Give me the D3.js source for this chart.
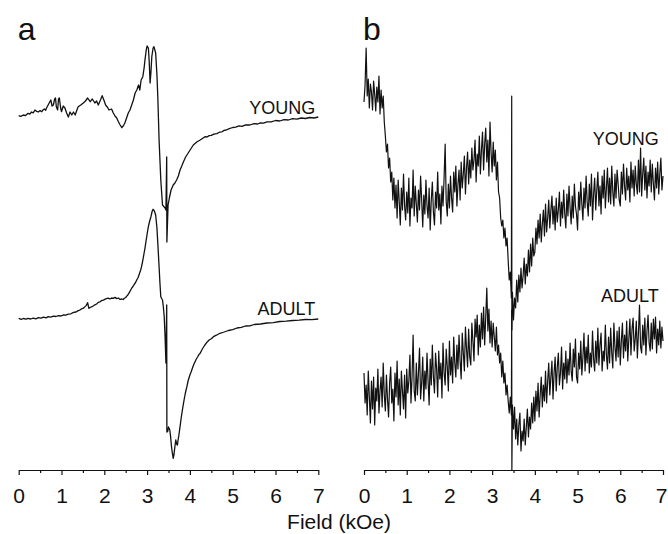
<!DOCTYPE html>
<html>
<head>
<meta charset="utf-8">
<script src="https://cdn.jsdelivr.net/npm/d3@7"></script>
<style>
  body { margin: 0; background: #fff; }
  svg { display: block; font-family: "Liberation Sans", Arial, Helvetica, sans-serif; }
</style>
</head>
<body>
<svg id="chart" width="668" height="534"></svg>
<script>
// EPR spectra, field in kOe, signal in arbitrary units
var panelLabels = ["a", "b"];
var traceNames = ["YOUNG", "ADULT"];
var majorTicks = [0, 1, 2, 3, 4, 5, 6, 7];
var minorTicks = [0.5, 1.5, 2.5, 3.5, 4.5, 5.5, 6.5];
var markerField = 3.46;

// vertical stacking of the traces (a.u.)
var offsetsA = [353, 151];
var offsetsB = [290, 137];
// sharp marker line at markerField: [top, bottom] per trace
var markerA = [[-40, -125], [14, -113]];
var markerB = [[84, -150], [23, -137]];

// panel a: [field, signal]
var youngA = [[0.00,1.3],[0.05,0.6],[0.11,2],[0.16,1.4],[0.22,3.7],[0.26,2.8],[0.30,5],[0.34,4.2],[0.38,7],[0.42,5.6],
  [0.46,5],[0.50,6.4],[0.54,5.3],[0.57,7.2],[0.60,8],[0.63,6.8],[0.65,9],[0.70,13],
  [0.75,17],[0.78,11],[0.81,12],[0.84,18],[0.86,19],[0.88,10],[0.91,7],[0.93,18],[0.95,19],[0.98,9],
  [1.00,5.3],[1.04,11],[1.08,9],[1.12,4],[1.16,0],[1.20,5],[1.24,2],[1.28,5],[1.32,2],[1.36,7],
  [1.39,10.3],[1.45,12],[1.51,14],[1.56,16],[1.61,19],[1.67,15.3],[1.72,18],[1.78,14],[1.82,16],[1.86,12],
  [1.91,17],[1.95,21.3],[1.99,17],[2.03,12],[2.07,10],[2.11,7],[2.17,8],[2.21,4],[2.25,1],[2.29,-1],
  [2.33,-4.7],[2.37,-8],[2.41,-10.7],[2.45,-8.5],[2.48,-6],[2.52,-1],[2.56,4],[2.60,7],[2.64,12],[2.68,17],
  [2.72,24],[2.76,27],[2.80,32],[2.83,27],[2.86,37],[2.90,40.3],[2.93,49],[2.95,57],[2.98,67],[3.00,71],
  [3.03,69],[3.05,55],[3.07,34],[3.09,45],[3.11,60.3],[3.14,69],[3.16,70.3],[3.20,64],[3.23,42],[3.25,20.3],
  [3.28,-23],[3.30,-43],[3.32,-63],[3.36,-88],[3.42,-91],[3.44,-93],[3.49,-88],[3.52,-81],[3.56,-73],[3.61,-68],
  [3.65,-66],[3.69,-63],[3.73,-59],[3.77,-53],[3.81,-49],[3.85,-44.7],[3.90,-40],[3.96,-36],[4.02,-32],[4.08,-28],
  [4.16,-25],[4.24,-23],[4.31,-21],[4.36,-19.6],[4.40,-20],[4.45,-18.6],[4.50,-18.4],[4.56,-17.2],[4.63,-16.6],[4.69,-15.2],
  [4.75,-14.8],[4.80,-13.4],[4.85,-13],[4.92,-11.6],[5.00,-10.5],[5.07,-10.2],[5.15,-8.9],[5.22,-9.3],[5.30,-7.8],[5.40,-8.0],
  [5.50,-6.6],[5.58,-7.0],[5.65,-5.8],[5.72,-6.2],[5.80,-4.8],[5.90,-4.9],[6.00,-3.5],[6.10,-4.0],[6.20,-2.6],[6.30,-3.0],
  [6.40,-1.7],[6.50,-2.2],[6.60,-1.0],[6.70,-1.5],[6.80,-0.5],[6.90,-1.0],[7.00,0]];

var adultA = [[0.00,0.7],[0.06,-0.3],[0.11,0.5],[0.17,-0.2],[0.22,0.7],[0.28,0],[0.34,0.8],[0.40,0.2],[0.46,1.3],[0.52,0.8],
  [0.58,1.8],[0.64,1.2],[0.69,2.3],[0.75,1.9],[0.81,2.8],[0.87,2.5],[0.93,3.4],[0.99,3.0],[1.05,4.2],[1.10,3.9],
  [1.16,4.9],[1.22,5.2],[1.28,6.6],[1.34,7.0],[1.39,8.4],[1.43,8.9],[1.47,10.2],[1.51,10.8],[1.55,12.4],[1.58,13.6],
  [1.61,16.3],[1.64,10.7],[1.67,11.5],[1.70,12.2],[1.74,13.0],[1.78,14.2],[1.82,15.0],[1.86,16.6],[1.90,17.2],[1.94,18.5],
  [1.98,18.9],[2.01,19.6],[2.05,20.3],[2.09,20.8],[2.13,20.0],[2.17,21.0],[2.21,20.6],[2.25,21.6],[2.29,20.4],[2.33,21.0],
  [2.37,19.6],[2.41,20.0],[2.44,19.5],[2.47,20.8],[2.50,21.5],[2.52,22.6],[2.55,24.0],[2.58,26.2],[2.61,28.5],[2.64,30.8],
  [2.67,32.5],[2.70,34.7],[2.73,36.5],[2.76,39.2],[2.79,41.5],[2.82,45.2],[2.85,49],[2.87,52.3],[2.89,56.5],[2.91,61],
  [2.93,66],[2.95,70.7],[2.97,76.5],[2.99,82],[3.01,87.5],[3.03,92.3],[3.06,98],[3.09,102.3],[3.12,108],[3.14,109.7],
  [3.17,108],[3.20,104],[3.23,91],[3.25,76],[3.28,52.3],[3.30,36],[3.32,22.3],[3.34,20.5],[3.36,19],[3.38,12],
  [3.40,2.3],[3.42,-18],[3.44,-44],[3.48,-112.7],[3.50,-108],[3.53,-111],[3.55,-118],[3.57,-127.7],[3.59,-134],[3.61,-139.3],
  [3.63,-135],[3.64,-131],[3.66,-124],[3.67,-121],[3.69,-125],[3.71,-126],[3.72,-122],[3.74,-117],[3.77,-107.7],[3.79,-101],
  [3.81,-95],[3.83,-89.5],[3.85,-84.3],[3.87,-79.5],[3.89,-75],[3.91,-71],[3.93,-67.7],[3.96,-61.5],[4.00,-56],[4.03,-52.8],
  [4.06,-49],[4.09,-45.5],[4.12,-42.7],[4.15,-40],[4.18,-38],[4.21,-35.6],[4.24,-34.3],[4.29,-30],[4.35,-26],[4.40,-23.2],
  [4.45,-21],[4.50,-19.8],[4.55,-17.7],[4.62,-16.2],[4.70,-14.3],[4.80,-13.0],[4.90,-11.5],[5.00,-10.6],[5.10,-9],[5.20,-8.4],
  [5.30,-7],[5.40,-6.8],[5.50,-5.5],[5.65,-5.0],[5.80,-4],[5.95,-3.6],[6.10,-2.5],[6.25,-2.2],[6.40,-1.5],[6.55,-1.1],
  [6.70,-0.5],[6.85,-0.6],[7.00,0]];

// panel b: signal sampled every fieldStepB kOe from 0 to 7 (ten values per 0.25 kOe row)
var fieldStepB = 0.025;
var youngB = [
  78, 95, 132, 84, 101, 72, 96, 88, 70, 99,
  86, 69, 93, 78, 104, 66, 90, 72, 84, 58,
  44, 28, 36, 12, 22, -2, 8, -20, 2, -28,
  -5, -38, 0, -22, -45, -8, -30, 6, -26, -40,
  -12, -33, 2, -46, -18, -28, 10, -36, -6, -24,
  -42, -10, -30, 4, -20, -47, -15, -34, 0, -26,
  -38, -8, -50, -20, -2, -32, -45, -12, -28, 8,
  -30, -14, -44, -6, -26, 2, 36, -22, -36, -4,
  -28, 4, -18, -32, 8, -12, 14, -26, -4, 10,
  -20, 18, -8, 6, 24, -14, 12, 28, -4, 20,
  2, 32, 10, 20, 40, -2, 26, 14, 44, 6,
  30, 48, 10, 36, 52, 18, 40, 4, 58, 28,
  8, 38, 14, 30, 0, 18, -12, -18, -38, -46,
  -40, -58, -48, -66, -58, -80, -100, -92, -118, -112,
  -140, -118, -128, -100, -122, -95, -112, -88, -108, -96,
  -78, -104, -84, -96, -70, -92, -64, -86, -58, -76,
  -72, -48, -64, -40, -58, -34, -62, -44, -30, -56,
  -24, -52, -38, -20, -48, -30, -16, -44, -26, -50,
  -18, -42, -30, -12, -46, -22, -38, -10, -34, -48,
  -14, -36, -6, -28, -44, -16, -38, -4, -26, -34,
  -50, -12, -30, -2, -24, -40, -8, -28, 4, -22,
  -36, -4, -26, 6, -40, -14, 2, -30, -10, 8,
  -26, -6, -34, 4, -18, 10, -28, -8, 12, -22,
  2, -24, 14, -12, -26, 6, -18, 10, -4, -20,
  -26, 8, -14, 16, -6, -20, 12, -10, 4, -22,
  18, -8, 10, -16, 14, -4, -14, 20, -12, 32,
  -16, 6, 22, -10, 14, -18, 8, -6, 20, -12,
  16, -4, -20, 12, -8, 18, -14, 6, 22, -10,
  4];
var adultB = [
  -40, -70, -52, -82, -38, -64, -90, -48, -76, -44,
  -92, -55, -68, -36, -80, -58, -44, -74, -30, -62,
  -78, -42, -66, -84, -50, -34, -70, -56, -88, -40,
  -64, -28, -72, -46, -82, -38, -58, -76, -42, -85,
  -36, -60, -48, -22, -70, -44, -2, -58, -68, -30,
  -62, -40, -15, -66, -50, -24, -68, -38, -56, -20,
  -48, -72, -26, -52, -12, -44, -60, -20, -36, -64,
  -18, -46, -30, -65, -10, -40, -52, -16, -34, -58,
  -8, -42, -24, -50, -4, -30, -44, -12, -36, -2,
  -28, -46, 0, -20, -38, 6, -16, -34, 4, -24,
  -32, 10, -8, -28, 14, -4, 18, -22, 8, -14,
  20, -6, 26, -12, 16, 45, 2, 24, -10, 12,
  -14, 10, -4, -18, 6, -22, -12, -30, -20, -44,
  -28, -50, -40, -62, -52, -68, -80, -64, -82, -72,
  -96, -74, -106, -86, -112, -92, -80, -118, -98, -108,
  -86, -112, -94, -76, -104, -84, -96, -70, -90, -64,
  -88, -58, -78, -50, -84, -62, -44, -74, -52, -68,
  -38, -70, -48, -30, -62, -44, -28, -66, -40, -24,
  -58, -34, -20, -52, -40, -14, -56, -30, -46, -18,
  -50, -26, -42, -10, -38, -48, -16, -34, -6, -44,
  -50, -20, -36, -8, -42, -24, 0, -38, -14, -30,
  -2, -40, -20, -34, 2, -26, -38, -8, -30, 5,
  -32, -12, 0, -38, -18, -28, 8, -22, -36, -4,
  -30, 5, -20, -35, 10, -14, -28, 2, -24, 6,
  -32, -8, 10, -25, -2, -18, 12, -28, -6, 14,
  -22, 4, 15, -18, -6, 12, -25, 0, 28, -14,
  -20, 8, -12, 15, -22, 2, 18, -10, -18, 10,
  -16, 14, -6, 16, -20, 4, -12, 12, -15, 6,
  -8];

var svg = d3.select("#chart");

var xA = d3.scaleLinear().domain([0, 7]).range([18.7, 318.3]);
var xB = d3.scaleLinear().domain([0, 7]).range([364, 663]);
var y = d3.scaleLinear().domain([0, 450]).range([470, 20]);

function withMarker(points, offset, marker) {
  var pts = points.concat([[markerField - 0.002, marker[0]], [markerField + 0.002, marker[1]]]);
  pts.sort(function(p, q) { return p[0] - q[0]; });
  return pts.map(function(p) { return [p[0], offset + p[1]]; });
}

function sampled(values) {
  return values.map(function(v, i) { return [i * fieldStepB, v]; });
}

var panels = [
  { x: xA, traces: [youngA, adultA], offsets: offsetsA, markers: markerA, width: 1.3 },
  { x: xB, traces: [sampled(youngB), sampled(adultB)], offsets: offsetsB, markers: markerB, width: 1.2 }
];

panels.forEach(function(p, pi) {
  var g = svg.append("g").attr("class", "panel-" + panelLabels[pi]);

  var line = d3.line()
    .x(function(d) { return p.x(d[0]); })
    .y(function(d) { return y(d[1]); });

  p.traces.forEach(function(t, ti) {
    g.append("path")
      .datum(withMarker(t, p.offsets[ti], p.markers[ti]))
      .attr("fill", "none")
      .attr("stroke", "#111")
      .attr("stroke-width", p.width)
      .attr("stroke-linejoin", "round")
      .attr("d", line);
  });

  // minor ticks first, then the labelled axis on top
  g.append("g")
    .attr("transform", "translate(0," + y(0) + ")")
    .call(d3.axisBottom(p.x).tickValues(minorTicks).tickSize(3).tickFormat(""))
    .call(function(a) { a.select(".domain").remove(); });

  var ax = g.append("g")
    .attr("transform", "translate(0," + y(0) + ")")
    .call(d3.axisBottom(p.x).tickValues(majorTicks).tickSize(5).tickSizeOuter(0)
      .tickPadding(13).tickFormat(d3.format("d")));

  g.selectAll(".tick line, .domain").attr("stroke", "#111").attr("stroke-width", 1.2);
  ax.selectAll("text")
    .attr("fill", "#111")
    .style("font-size", "21px")
    .style("font-family", "'Liberation Sans', Arial, sans-serif");
  // keep the last label inside the page on the right panel
  if (pi === 1) ax.selectAll("text").filter(function(d) { return d === 7; }).attr("dx", "-2");

  // panel letter
  g.append("text")
    .attr("x", p.x(0) - 1)
    .attr("y", 40)
    .attr("fill", "#111")
    .style("font-size", "32px")
    .text(panelLabels[pi]);
});

// trace names
var nameStyle = function(sel) {
  sel.attr("text-anchor", "end").attr("fill", "#111").style("font-size", "18px");
};
svg.append("text").call(nameStyle).attr("x", xA(6.93)).attr("y", 113.5).text(traceNames[0]);
svg.append("text").call(nameStyle).attr("x", xA(6.93)).attr("y", 314.5).text(traceNames[1]);
svg.append("text").call(nameStyle).attr("x", xB(6.9)).attr("y", 144.5).text(traceNames[0]);
svg.append("text").call(nameStyle).attr("x", xB(6.9)).attr("y", 301.5).text(traceNames[1]);

// shared axis title
svg.append("text")
  .attr("x", 339)
  .attr("y", 529)
  .attr("text-anchor", "middle")
  .attr("fill", "#111")
  .style("font-size", "21px")
  .text("Field (kOe)");
</script>
</body>
</html>
